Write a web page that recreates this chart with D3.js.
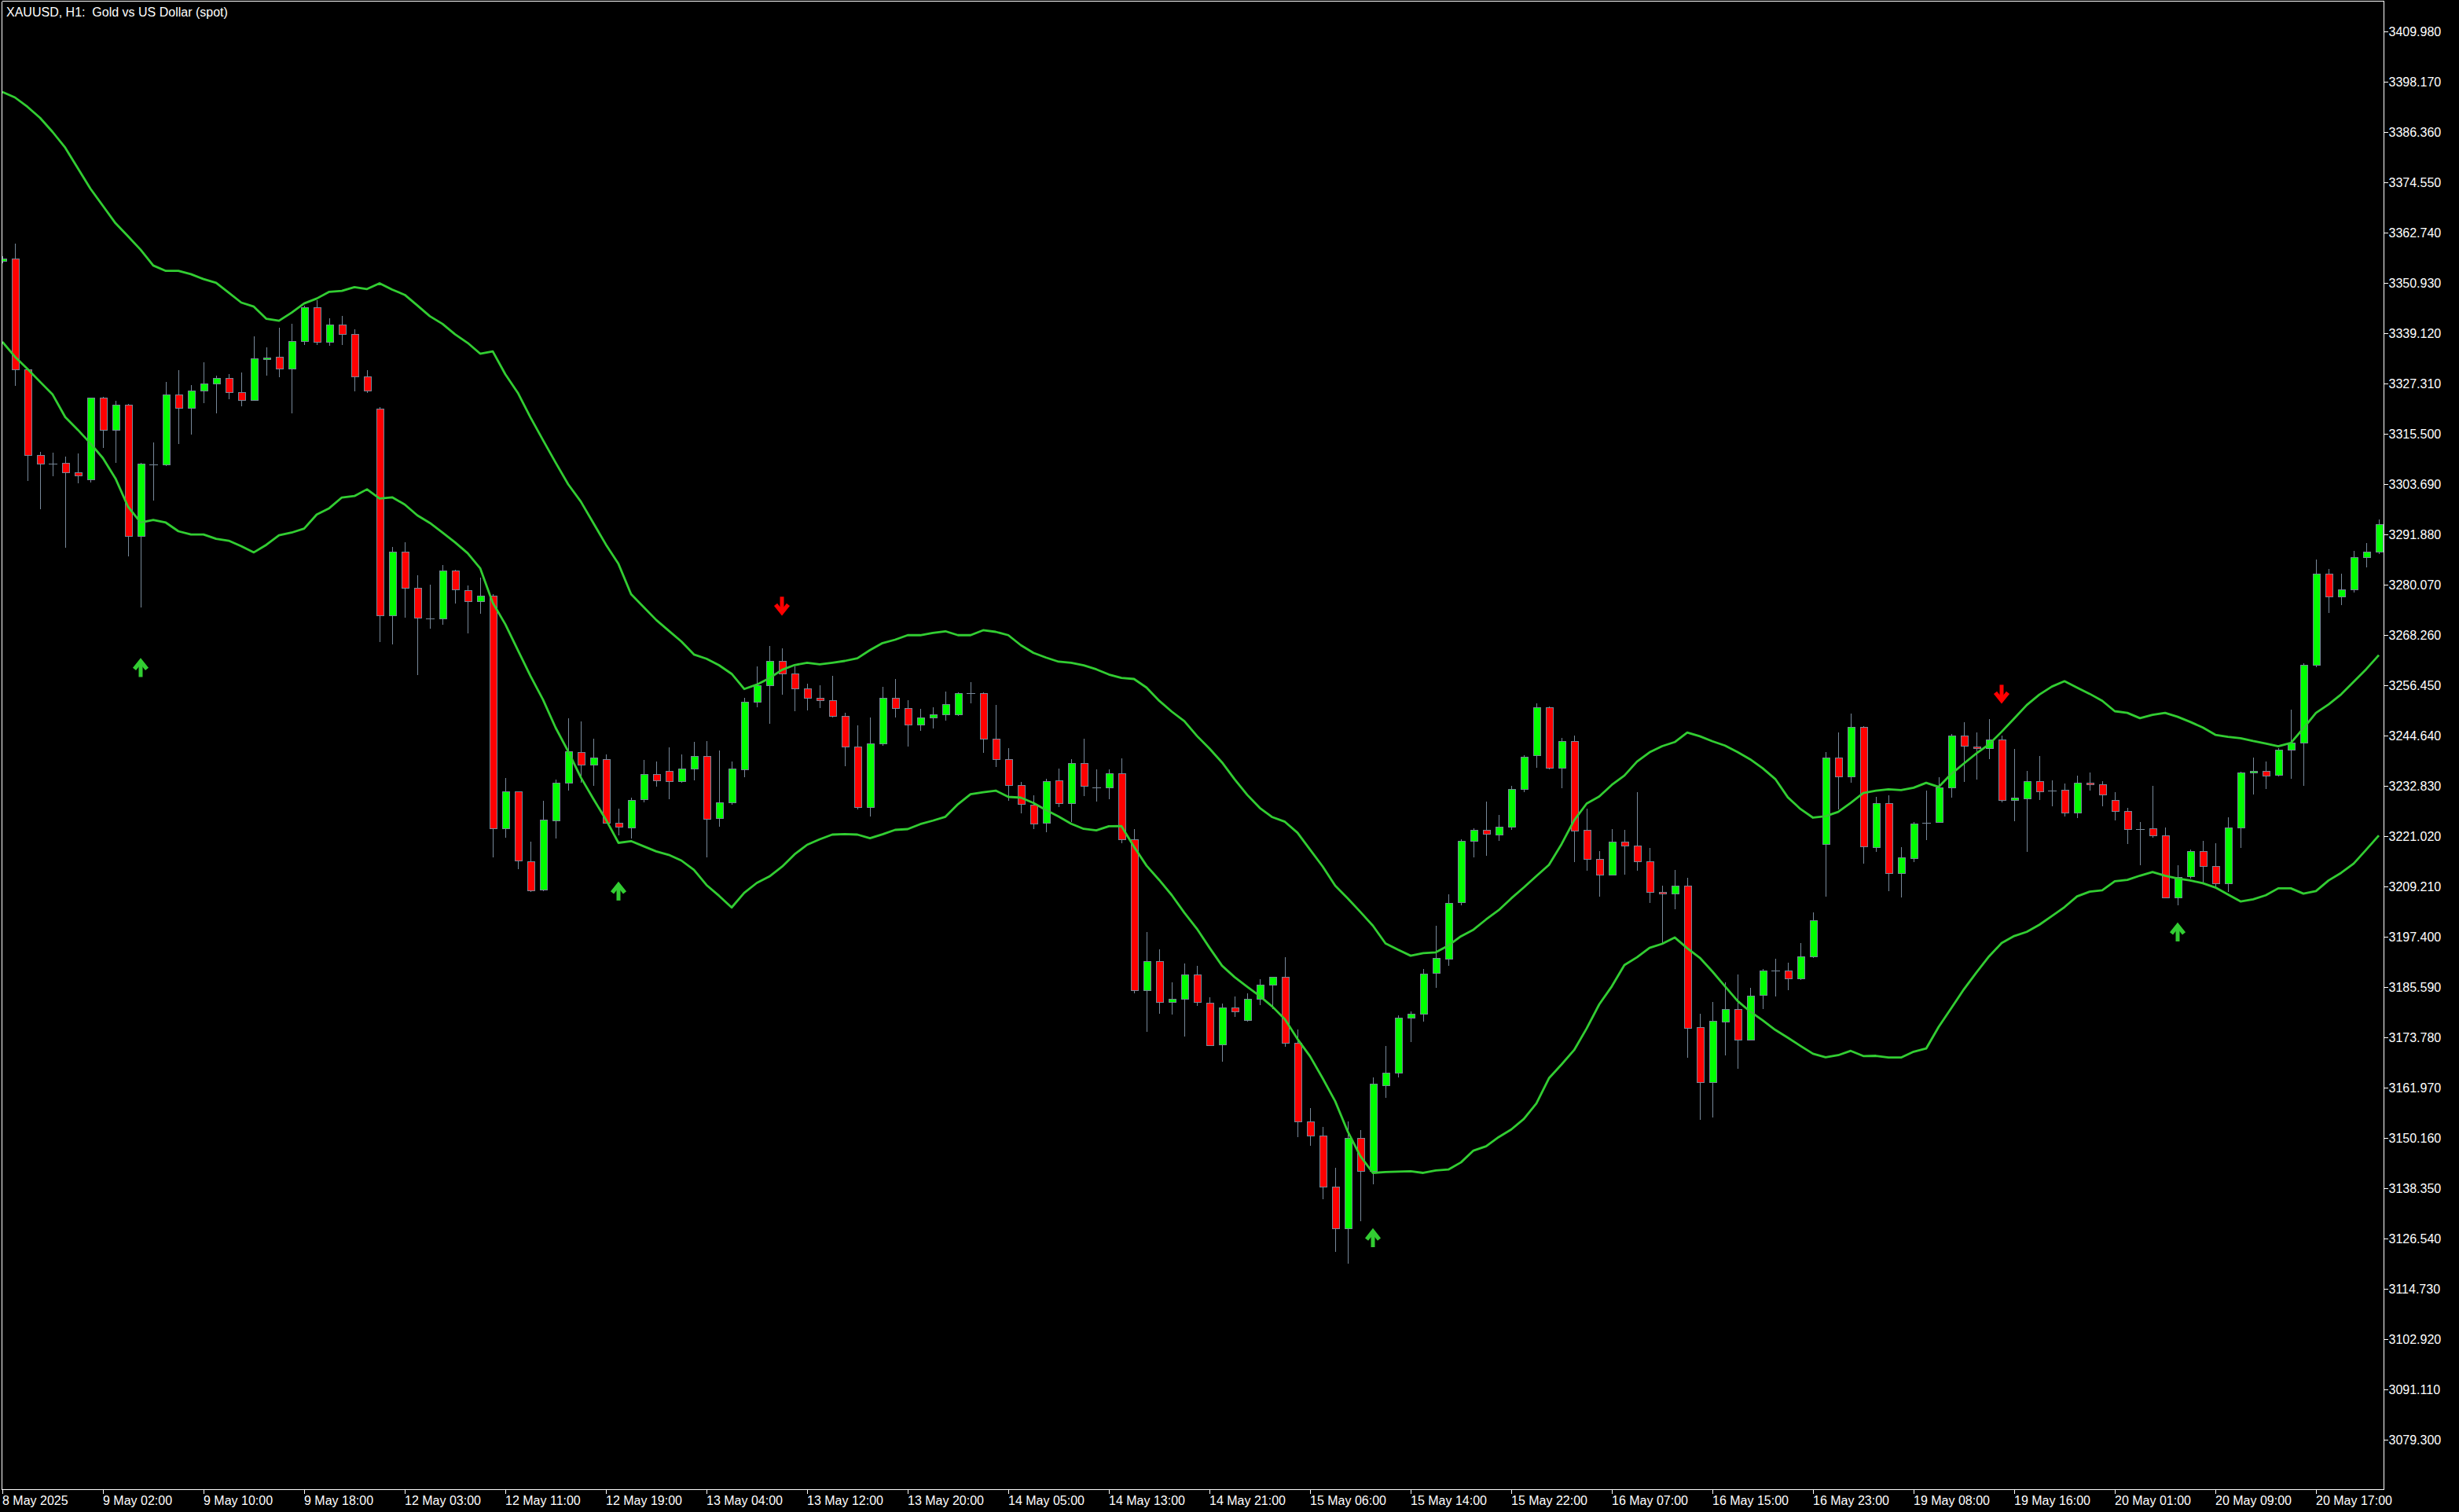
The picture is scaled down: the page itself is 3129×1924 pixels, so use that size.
<!DOCTYPE html>
<html><head><meta charset="utf-8">
<script src="https://cdn.jsdelivr.net/npm/d3@7"></script>
<style>html,body{margin:0;padding:0;background:#000;overflow:hidden}</style>
</head><body>
<script>
const chartTitle = "XAUUSD, H1:  Gold vs US Dollar (spot)";

const openP = [3356.03,3356.60,3330.55,3310.47,3308.56,3308.69,3306.40,3304.75,3323.94,3316.38,
3322.29,3291.47,3308.31,3308.19,3324.64,3321.53,3325.59,3327.25,3328.52,3325.21,
3323.37,3333.00,3333.54,3330.74,3337.22,3345.17,3337.03,3341.10,3338.87,3328.90,
3321.40,3272.85,3287.79,3279.27,3272.10,3272.10,3283.32,3278.86,3276.23,3277.55,
3222.90,3231.50,3215.20,3208.32,3224.82,3233.62,3240.81,3237.77,3239.19,3224.21,
3223.20,3229.58,3235.55,3236.26,3233.83,3236.86,3239.90,3225.22,3228.97,3236.86,
3252.65,3256.50,3262.16,3259.13,3255.65,3253.44,3252.88,3249.19,3242.00,3227.79,
3242.74,3253.44,3251.04,3247.16,3248.82,3249.56,3249.56,3254.55,3254.55,3243.84,
3239.04,3232.95,3228.46,3224.10,3234.06,3228.71,3238.12,3232.46,3232.34,3235.72,
3220.22,3184.85,3191.62,3182.02,3182.88,3188.61,3181.99,3172.10,3180.70,3177.74,
3182.78,3186.14,3187.92,3172.50,3154.11,3150.75,3138.69,3129.00,3150.16,3142.35,
3162.61,3165.48,3178.33,3179.32,3188.81,3192.37,3205.42,3219.85,3222.42,3221.43,
3223.31,3232.11,3240.02,3251.29,3237.15,3243.38,3222.42,3215.59,3211.90,3219.68,
3218.73,3215.04,3207.88,3207.47,3209.38,3176.13,3163.23,3177.57,3180.50,3173.34,
3183.64,3189.38,3189.38,3187.53,3192.72,3219.14,3239.41,3234.97,3246.58,3218.39,
3228.69,3212.24,3216.00,3224.19,3224.19,3232.38,3244.60,3242.14,3241.79,3243.77,
3229.47,3229.99,3234.01,3231.71,3231.84,3226.50,3233.49,3233.16,3229.47,3226.90,
3222.74,3222.81,3221.16,3206.67,3211.48,3217.47,3213.98,3209.89,3223.01,3235.99,
3236.39,3235.33,3241.26,3242.91,3261.23,3282.59,3277.25,3278.90,3286.47,3287.73];

const highP = [3357.20,3360.16,3330.80,3311.23,3311.10,3310.09,3310.92,3324.00,3324.20,3323.24,
3322.50,3308.70,3313.46,3327.69,3330.42,3326.93,3332.27,3329.15,3329.53,3329.91,
3338.37,3335.82,3340.40,3341.35,3345.50,3346.82,3342.62,3343.20,3340.02,3330.42,
3321.70,3288.93,3290.07,3282.20,3280.08,3284.73,3283.60,3279.87,3281.70,3277.85,
3234.64,3231.60,3219.76,3229.37,3234.33,3248.70,3248.00,3243.95,3240.20,3227.55,
3229.98,3238.89,3238.60,3241.92,3240.20,3243.24,3243.40,3241.21,3238.58,3253.56,
3260.85,3265.71,3265.10,3260.88,3256.82,3256.45,3258.67,3249.93,3247.04,3248.82,
3256.02,3257.87,3252.95,3250.85,3251.22,3254.98,3254.74,3257.19,3254.70,3251.84,
3241.69,3233.69,3230.62,3234.55,3236.89,3239.11,3243.90,3236.71,3236.71,3239.29,
3222.68,3198.51,3194.39,3186.72,3191.08,3190.59,3183.28,3181.69,3183.37,3184.16,
3187.43,3188.00,3192.67,3175.56,3157.18,3152.73,3143.14,3154.01,3152.04,3164.39,
3171.71,3179.02,3179.91,3189.90,3199.98,3207.40,3220.25,3222.80,3229.14,3226.08,
3232.80,3240.02,3252.18,3251.50,3244.07,3244.56,3227.47,3217.50,3222.69,3222.48,
3231.36,3218.25,3209.38,3213.06,3211.22,3179.34,3182.07,3186.71,3188.56,3185.42,
3189.85,3192.24,3191.29,3195.93,3203.03,3240.78,3245.35,3249.79,3246.80,3230.20,
3230.54,3218.39,3224.30,3231.70,3234.77,3245.00,3247.74,3245.35,3248.51,3244.56,
3241.59,3236.32,3239.81,3234.21,3233.36,3235.20,3235.99,3233.88,3231.38,3227.75,
3224.33,3232.83,3223.01,3214.11,3217.87,3219.85,3219.32,3225.45,3236.10,3239.49,
3238.63,3241.60,3250.82,3261.69,3285.95,3283.77,3282.65,3288.06,3289.84,3295.31];

const lowP = [3355.60,3326.80,3304.50,3297.82,3305.58,3288.80,3303.93,3304.12,3312.25,3308.75,
3286.70,3274.76,3299.86,3308.00,3313.01,3315.36,3322.61,3320.38,3323.69,3322.04,
3323.30,3329.22,3328.83,3320.38,3336.27,3336.40,3336.08,3336.40,3325.53,3325.15,
3266.69,3266.01,3272.28,3258.93,3269.65,3270.67,3275.73,3268.54,3273.30,3216.12,
3220.67,3213.18,3207.90,3208.10,3220.47,3231.80,3233.62,3232.81,3224.00,3221.18,
3220.47,3229.00,3232.71,3229.78,3233.60,3234.03,3216.12,3223.20,3228.40,3234.84,
3251.23,3247.49,3254.27,3250.42,3250.61,3251.16,3248.82,3237.51,3227.36,3225.57,
3242.18,3248.95,3242.06,3245.75,3246.36,3248.21,3249.30,3252.21,3240.64,3237.32,
3229.39,3226.44,3222.62,3221.88,3227.79,3224.28,3230.49,3229.20,3229.76,3219.42,
3184.11,3175.13,3179.32,3179.20,3173.88,3181.10,3171.80,3168.15,3178.53,3177.50,
3181.30,3180.51,3171.61,3150.36,3148.38,3135.82,3123.47,3120.70,3130.68,3139.19,
3159.55,3164.30,3172.60,3177.54,3185.35,3190.59,3204.83,3216.09,3216.49,3219.85,
3222.42,3231.30,3237.15,3236.70,3232.21,3215.01,3212.99,3206.72,3211.80,3212.04,
3212.99,3205.42,3196.00,3203.92,3169.04,3154.36,3154.91,3169.58,3166.31,3173.00,
3180.50,3183.44,3184.94,3187.30,3192.50,3206.85,3227.26,3233.61,3214.63,3217.29,
3208.15,3206.65,3214.97,3220.09,3224.10,3230.13,3233.75,3234.34,3239.16,3229.01,
3224.59,3217.41,3229.60,3228.08,3225.71,3225.32,3231.71,3228.08,3224.79,3219.19,
3214.24,3220.70,3206.50,3204.69,3211.10,3209.96,3209.30,3207.98,3218.33,3230.72,
3232.04,3235.10,3234.48,3232.89,3260.71,3273.43,3275.34,3278.30,3284.10,3287.30];

const closeP = [3356.60,3330.55,3310.47,3308.44,3308.56,3306.40,3305.64,3323.94,3316.38,3322.29,
3291.47,3308.44,3308.31,3324.64,3321.53,3325.59,3327.25,3328.52,3325.21,3323.37,
3333.16,3333.40,3330.74,3337.22,3345.17,3337.03,3341.10,3338.87,3328.90,3325.59,
3272.85,3287.79,3279.27,3272.18,3272.10,3283.32,3278.96,3276.23,3277.55,3222.90,
3231.50,3215.20,3208.32,3224.82,3233.62,3240.91,3237.77,3239.39,3224.21,3223.20,
3229.58,3235.55,3234.13,3233.83,3236.86,3239.90,3225.22,3228.97,3236.86,3252.65,
3256.50,3262.16,3259.13,3255.65,3253.44,3252.88,3249.19,3242.00,3227.79,3242.74,
3253.44,3251.04,3247.16,3248.82,3249.56,3251.96,3254.55,3254.55,3243.84,3239.04,
3232.95,3228.46,3224.10,3233.88,3228.71,3238.12,3232.77,3232.46,3235.72,3220.22,
3184.85,3191.62,3182.02,3182.85,3188.61,3182.09,3172.10,3180.70,3179.72,3182.78,
3186.14,3187.92,3172.50,3154.11,3150.75,3138.69,3129.00,3150.16,3142.35,3162.91,
3165.48,3178.33,3179.32,3188.81,3192.37,3205.42,3219.85,3222.42,3221.43,3223.31,
3232.11,3239.62,3251.29,3237.15,3243.38,3222.42,3215.59,3211.90,3219.68,3218.73,
3215.04,3207.81,3207.47,3209.38,3175.93,3163.23,3177.57,3180.50,3173.34,3183.64,
3189.38,3189.38,3187.53,3192.72,3201.19,3239.41,3234.97,3246.58,3218.52,3228.69,
3212.24,3216.00,3224.05,3224.19,3232.38,3244.60,3242.14,3241.79,3243.77,3229.47,
3230.06,3234.01,3231.64,3231.71,3226.50,3233.49,3233.16,3230.72,3226.90,3222.61,
3222.74,3221.16,3206.67,3211.48,3217.47,3213.98,3209.89,3223.01,3235.93,3236.39,
3235.33,3241.26,3242.91,3261.17,3282.59,3277.25,3278.90,3286.47,3287.73,3294.19];

const upperBand = [3395.77,3394.48,3392.27,3389.68,3386.36,3382.67,3377.87,3373.07,3369.01,3364.94,
3361.87,3358.70,3355.01,3353.75,3353.75,3352.98,3351.83,3350.95,3348.66,3346.32,
3345.36,3342.50,3342.05,3343.95,3346.11,3347.26,3348.85,3349.05,3349.93,3349.49,
3350.84,3349.36,3348.13,3345.65,3343.12,3341.32,3338.88,3336.85,3334.32,3334.84,
3329.47,3325.11,3319.34,3313.99,3308.73,3303.65,3299.61,3294.56,3289.50,3284.94,
3277.86,3274.81,3271.79,3269.26,3266.73,3263.68,3262.67,3261.16,3259.13,3255.58,
3256.60,3258.11,3260.07,3261.19,3261.75,3261.38,3261.75,3262.17,3262.78,3264.70,
3266.36,3267.15,3268.21,3268.21,3268.76,3269.13,3268.21,3268.21,3269.37,3269.00,
3268.21,3265.86,3264.07,3262.96,3261.99,3261.75,3261.12,3260.20,3258.98,3258.17,
3257.93,3255.90,3252.82,3250.27,3248.02,3244.57,3241.60,3238.33,3234.38,3230.73,
3227.66,3225.49,3224.40,3221.83,3217.86,3213.92,3209.38,3206.41,3203.23,3199.98,
3195.83,3194.34,3192.95,3193.54,3193.75,3195.33,3197.51,3199.08,3201.46,3203.64,
3206.41,3208.97,3211.65,3214.30,3219.14,3224.75,3228.68,3230.34,3233.07,3235.25,
3238.53,3240.71,3242.15,3243.11,3245.36,3244.47,3243.31,3242.28,3240.78,3239.07,
3236.96,3234.43,3230.13,3227.40,3225.36,3225.69,3226.72,3228.84,3231.15,3231.70,
3232.04,3231.83,3232.39,3233.55,3232.59,3235.63,3238.09,3240.47,3242.59,3245.54,
3248.64,3251.82,3254.25,3256.15,3257.41,3255.90,3254.44,3252.80,3250.36,3249.97,
3248.72,3249.51,3249.97,3249.05,3247.85,3246.54,3244.82,3244.36,3244.03,3243.37,
3242.78,3242.13,3242.91,3246.34,3249.97,3251.95,3254.31,3257.28,3260.25,3263.54];

const lowerBand = [3337.09,3333.60,3330.74,3327.70,3324.71,3319.43,3316.44,3313.27,3309.78,3305.00,
3298.34,3294.65,3295.29,3294.65,3292.62,3291.86,3291.86,3290.85,3290.39,3289.11,
3287.65,3289.44,3291.66,3292.30,3293.25,3296.55,3298.03,3300.55,3300.89,3302.47,
3300.28,3300.59,3298.89,3296.36,3294.56,3292.32,3290.00,3287.47,3283.93,3275.83,
3270.77,3264.70,3258.63,3253.05,3246.49,3240.91,3234.84,3229.79,3224.91,3219.45,
3219.86,3218.64,3217.44,3216.63,3215.30,3213.09,3209.54,3207.01,3204.28,3207.72,
3210.04,3211.55,3213.83,3216.74,3218.99,3220.28,3221.39,3221.52,3221.39,3220.52,
3221.45,3222.50,3222.68,3223.84,3224.66,3225.58,3228.53,3230.86,3231.35,3231.72,
3230.25,3230.06,3228.83,3227.17,3225.63,3223.92,3222.74,3222.37,3223.36,3223.38,
3218.53,3214.08,3210.74,3207.18,3203.05,3199.28,3194.84,3190.59,3187.92,3185.65,
3183.47,3181.00,3178.02,3173.39,3169.33,3164.18,3158.76,3151.64,3145.90,3141.95,
3142.15,3142.24,3142.34,3141.95,3142.54,3142.74,3144.42,3147.19,3148.19,3150.35,
3152.14,3154.61,3158.26,3164.18,3167.41,3170.79,3175.88,3181.53,3185.76,3190.76,
3192.58,3194.78,3195.74,3197.23,3194.71,3192.46,3189.24,3185.76,3182.34,3179.83,
3177.78,3175.53,3173.69,3171.77,3169.92,3169.11,3169.59,3170.61,3169.39,3169.44,
3169.04,3169.04,3170.40,3171.16,3176.27,3180.64,3185.07,3189.04,3192.79,3195.92,
3197.57,3198.56,3200.21,3202.26,3204.36,3206.87,3207.99,3208.31,3210.43,3210.76,
3211.74,3212.61,3211.74,3211.08,3210.61,3209.97,3208.97,3207.33,3205.69,3206.20,
3207.13,3208.77,3208.77,3207.53,3208.12,3210.61,3212.40,3214.58,3217.87,3221.17];

const timeTickIndex = [0,8,16,24,32,40,48,56,64,72,80,88,96,104,112,120,128,136,144,152,160,168,176,184];
const timeTickLabels = ["8 May 2025","9 May 02:00","9 May 10:00","9 May 18:00","12 May 03:00","12 May 11:00",
"12 May 19:00","13 May 04:00","13 May 12:00","13 May 20:00","14 May 05:00","14 May 13:00","14 May 21:00",
"15 May 06:00","15 May 14:00","15 May 22:00","16 May 07:00","16 May 15:00","16 May 23:00","19 May 08:00",
"19 May 16:00","20 May 01:00","20 May 09:00","20 May 17:00"];

const priceTicks = [3409.98,3398.17,3386.36,3374.55,3362.74,3350.93,3339.12,3327.31,3315.50,3303.69,
3291.88,3280.07,3268.26,3256.45,3244.64,3232.83,3221.02,3209.21,3197.40,3185.59,3173.78,3161.97,
3150.16,3138.35,3126.54,3114.73,3102.92,3091.11,3079.30];

const buyArrowIndex = [11,49,109,173];
const buyArrowPrice = [3260.51,3208.03,3126.63,3198.43];
const sellArrowIndex = [62,159];
const sellArrowPrice = [3275.12,3254.44];

// ---------- drawing ----------
const W = 3129, H = 1924;
const plotL = 2.5, plotT = 1.5, plotR = 3033.5, plotB = 1895.5;
const n = closeP.length;

const x = d3.scaleLinear().domain([0, n - 1]).range([3, 3027]);
const y = d3.scaleLinear().domain([3079.30, 3409.98]).range([1832, 40]);

const svg = d3.select("body").append("svg")
  .attr("width", W).attr("height", H)
  .style("display", "block").style("background", "#000");

svg.append("defs").append("clipPath").attr("id", "plotclip")
  .append("rect").attr("x", 3).attr("y", 2).attr("width", 3030).attr("height", 1893);

const plot = svg.append("g").attr("clip-path", "url(#plotclip)");

const bars = d3.range(n).map(i => ({i, o: openP[i], h: highP[i], l: lowP[i], c: closeP[i]}));
const wickColor = "#778899";

// wicks
plot.append("g").selectAll("line").data(bars).join("line")
  .attr("x1", d => Math.round(x(d.i)) + 0.5).attr("x2", d => Math.round(x(d.i)) + 0.5)
  .attr("y1", d => y(d.h)).attr("y2", d => y(d.l))
  .attr("stroke", wickColor).attr("stroke-width", 1).attr("shape-rendering", "crispEdges");

// bodies
const bodyHalf = 4.5;
plot.append("g").selectAll("rect").data(bars.filter(d => Math.abs(d.c - d.o) >= 0.05)).join("rect")
  .attr("x", d => Math.round(x(d.i)) - bodyHalf + 0.5)
  .attr("width", bodyHalf * 2)
  .attr("y", d => Math.round(y(Math.max(d.o, d.c))) + 0.5)
  .attr("height", d => Math.max(1, Math.round(Math.abs(y(d.o) - y(d.c)))))
  .attr("fill", d => d.c > d.o ? "#00ff00" : "#ff0000")
  .attr("stroke", wickColor).attr("stroke-width", 1).attr("shape-rendering", "crispEdges");

// dojis
plot.append("g").selectAll("line").data(bars.filter(d => Math.abs(d.c - d.o) < 0.05)).join("line")
  .attr("x1", d => Math.round(x(d.i)) - 5).attr("x2", d => Math.round(x(d.i)) + 6)
  .attr("y1", d => Math.round(y(d.c)) + 0.5).attr("y2", d => Math.round(y(d.c)) + 0.5)
  .attr("stroke", wickColor).attr("stroke-width", 1).attr("shape-rendering", "crispEdges");

// bands
const bandLine = d3.line().x((d, i) => x(i)).y(d => y(d));
[upperBand, lowerBand].forEach(arr => {
  plot.append("path").datum(arr).attr("d", bandLine)
    .attr("fill", "none").attr("stroke", "#32cd32").attr("stroke-width", 2.8)
    .attr("stroke-linejoin", "round");
});

// arrows
function drawArrow(g, cx, cy, dir, color) {
  const s = dir; // 1 = up, -1 = down
  g.append("path")
    .attr("d", `M${cx - 8},${cy + s * 1.5} L${cx},${cy - s * 8.5} L${cx + 8},${cy + s * 1.5}`)
    .attr("fill", "none").attr("stroke", color).attr("stroke-width", 5.2)
    .attr("stroke-linejoin", "miter").attr("stroke-miterlimit", 10);
  g.append("line")
    .attr("x1", cx).attr("x2", cx)
    .attr("y1", cy - s * 9).attr("y2", cy + s * 11.5)
    .attr("stroke", color).attr("stroke-width", 5);
}
const arrowG = plot.append("g");
buyArrowIndex.forEach((k, j) => drawArrow(arrowG, x(k), y(buyArrowPrice[j]), 1, "#32cd32"));
sellArrowIndex.forEach((k, j) => drawArrow(arrowG, x(k), y(sellArrowPrice[j]), -1, "#ff0000"));

// frame
const frame = svg.append("g").attr("stroke", "#ffffff").attr("stroke-width", 1).attr("shape-rendering", "crispEdges");
frame.append("line").attr("x1", plotL).attr("x2", plotR).attr("y1", plotT).attr("y2", plotT);
frame.append("line").attr("x1", plotL).attr("x2", plotL).attr("y1", plotT).attr("y2", plotB);
frame.append("line").attr("x1", plotR).attr("x2", plotR).attr("y1", plotT).attr("y2", plotB);
frame.append("line").attr("x1", plotL).attr("x2", plotR).attr("y1", plotB).attr("y2", plotB);

const font = "'Liberation Sans', Arial, sans-serif";

// price axis
const pAxis = svg.append("g");
pAxis.selectAll("line").data(priceTicks).join("line")
  .attr("x1", plotR).attr("x2", plotR + 5)
  .attr("y1", d => Math.round(y(d)) + 0.5).attr("y2", d => Math.round(y(d)) + 0.5)
  .attr("stroke", "#ffffff").attr("shape-rendering", "crispEdges");
pAxis.selectAll("text").data(priceTicks).join("text")
  .attr("x", plotR + 6).attr("y", d => y(d))
  .attr("dy", "0.36em")
  .attr("fill", "#ffffff").attr("font-family", font).attr("font-size", 16)
  .text(d => d3.format(".3f")(d));

// time axis
const tAxis = svg.append("g");
tAxis.selectAll("line").data(timeTickIndex).join("line")
  .attr("x1", d => Math.round(x(d)) + 0.5).attr("x2", d => Math.round(x(d)) + 0.5)
  .attr("y1", plotB).attr("y2", plotB + 5)
  .attr("stroke", "#ffffff").attr("shape-rendering", "crispEdges");
tAxis.selectAll("text").data(timeTickIndex).join("text")
  .attr("x", d => x(d)).attr("y", 1915)
  .attr("fill", "#ffffff").attr("font-family", font).attr("font-size", 16)
  .text((d, j) => timeTickLabels[j]);

// title
svg.append("text").attr("x", 8).attr("y", 21)
  .attr("fill", "#ffffff").attr("font-family", font).attr("font-size", 16)
  .style("white-space", "pre")
  .text(chartTitle);
</script>
</body></html>
